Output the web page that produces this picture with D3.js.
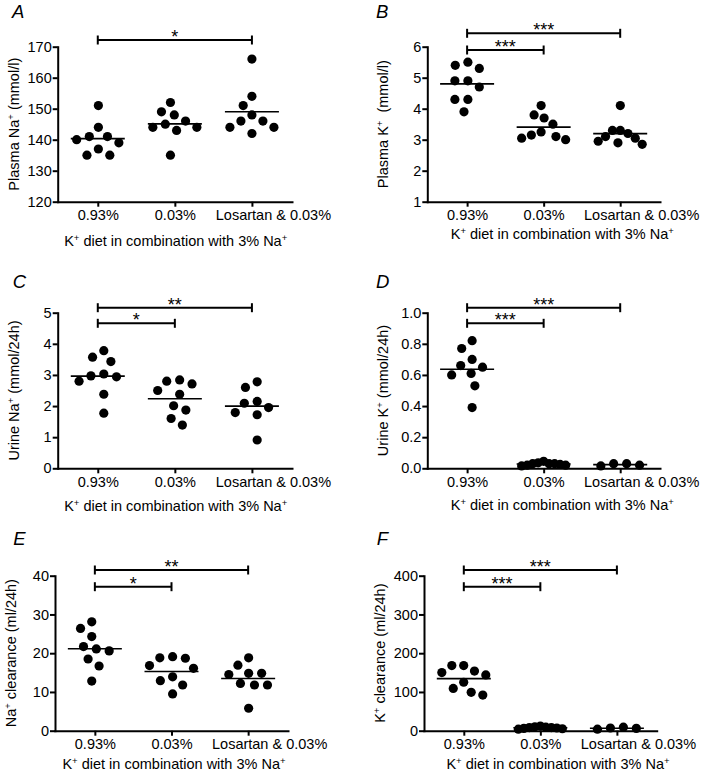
<!DOCTYPE html>
<html><head><meta charset="utf-8">
<script src="https://cdn.jsdelivr.net/npm/d3@7"></script>
<style>
body{margin:0;background:#fff}
svg{display:block}
text{font-family:"Liberation Sans",Arial,Helvetica,sans-serif;fill:#000}
</style></head>
<body><svg width="702" height="778"></svg>
<script>
// ---------- DATA ----------
const categories = ["0.93%", "0.03%", "Losartan & 0.03%"];
const xTitle = "K^+ diet in combination with 3% Na^+";

// A: Plasma Na+ (mmol/l)
const plasmaNa = [
  [144, 151, 137, 141, 140, 141, 139, 135, 135],
  [152, 148, 149, 146, 145, 144, 143, 144, 135],
  [166, 154, 151, 148, 146, 146, 144, 144, 142]
];
// B: Plasma K+ (mmol/l)
const plasmaK = [
  [5.5, 5.3, 5.4, 4.9, 4.7, 4.9, 4.3, 4.3, 3.9],
  [4.1, 3.7, 3.8, 3.5, 3.15, 3.25, 3.05, 3.1, 3.0],
  [4.1, 3.3, 3.3, 3.2, 3.1, 2.95, 2.85, 2.9, 3.05]
];
// C: Urine Na+ (mmol/24h)
const urineNa = [
  [3.57, 3.78, 3.43, 3.03, 2.94, 2.97, 2.8, 2.38, 1.77],
  [2.84, 2.71, 2.8, 2.38, 2.5, 2.01, 1.87, 1.6, 1.39],
  [2.78, 2.6, 2.15, 2.09, 1.95, 1.79, 1.72, 0.91]
];
// D: Urine K+ (mmol/24h)
const urineK = [
  [0.82, 0.77, 0.70, 0.65, 0.66, 0.60, 0.61, 0.53, 0.39],
  [0.03, 0.02, 0.035, 0.045, 0.03, 0.02, 0.015, 0.025, 0.03],
  [0.03, 0.015, 0.02, 0.03]
];
// E: Na+ clearance (ml/24h)
const naClearance = [
  [28.1, 26.4, 24.3, 21.7, 20.6, 21.1, 18.5, 16.7, 12.8],
  [19.1, 18.7, 18.8, 16.1, 16.8, 12.9, 13.9, 11.8, 9.5],
  [18.8, 16.9, 14.5, 14.8, 14.8, 11.8, 11.8, 12.2, 5.8]
];
// F: K+ clearance (ml/24h)
const kClearance = [
  [168, 168, 150, 144, 154, 125, 109, 99, 92],
  [8, 5, 10, 12, 7, 9, 4, 6, 8],
  [7, 4, 6, 9]
];

const ticksA = [120, 130, 140, 150, 160, 170];
const ticksB = [1, 2, 3, 4, 5, 6];
const ticksC = [0, 1, 2, 3, 4, 5];
const ticksD = [0.0, 0.2, 0.4, 0.6, 0.8, 1.0];
const ticksE = [0, 10, 20, 30, 40];
const ticksF = [0, 100, 200, 300, 400];

const sigA = [{from: 0, to: 2, label: "*"}];
const sigB = [{from: 0, to: 1, label: "***"}, {from: 0, to: 2, label: "***"}];
const sigC = [{from: 0, to: 1, label: "*"}, {from: 0, to: 2, label: "**"}];
const sigD = [{from: 0, to: 1, label: "***"}, {from: 0, to: 2, label: "***"}];
const sigE = [{from: 0, to: 1, label: "*"}, {from: 0, to: 2, label: "**"}];
const sigF = [{from: 0, to: 1, label: "***"}, {from: 0, to: 2, label: "***"}];

// ---------- PANELS (layout) ----------
const panels = [
  {letter: "A", data: plasmaNa, ticks: ticksA, fmt: d3.format("d"), yTitle: "Plasma Na^+ (mmol/l)", sig: sigA,
   x0: 57.7, x1: 292, y0: 46.7, y1: 201.7, lx: 12, ly: 18.3, bOff: [-6.7], xtDy: 44, xtDx: 118},
  {letter: "B", data: plasmaK, ticks: ticksB, fmt: d3.format("d"), yTitle: "Plasma K^+  (mmol/l)", sig: sigB,
   x0: 427.3, x1: 660, y0: 46.7, y1: 201.7, lx: 376, ly: 18.3, bOff: [3.3, -13.4], xtDy: 37.5, xtDx: 135},
  {letter: "C", data: urineNa, ticks: ticksC, fmt: d3.format("d"), yTitle: "Urine Na^+ (mmol/24h)", sig: sigC,
   x0: 57.7, x1: 292, y0: 312.7, y1: 468.3, lx: 12.7, ly: 288.3, bOff: [10.6, -5], xtDy: 43, xtDx: 118},
  {letter: "D", data: urineK, ticks: ticksD, fmt: d3.format(".1f"), yTitle: "Urine K^+ (mmol/24h)", sig: sigD,
   x0: 427.3, x1: 660, y0: 312.7, y1: 468.3, lx: 376, ly: 288.3, bOff: [10.6, -5], xtDy: 42, xtDx: 135},
  {letter: "E", data: naClearance, ticks: ticksE, fmt: d3.format("d"), yTitle: "Na^+ clearance (ml/24h)", sig: sigE,
   x0: 55, x1: 288, y0: 575.7, y1: 730.7, lx: 13.3, ly: 545, bOff: [11, -5.7], xtDy: 38.3, xtDx: 119},
  {letter: "F", data: kClearance, ticks: ticksF, fmt: d3.format("d"), yTitle: "K^+ clearance (ml/24h)", sig: sigF,
   x0: 424, x1: 656.7, y0: 575.7, y1: 730.7, lx: 376.7, ly: 545, bOff: [11, -5.7], xtDy: 38.3, xtDx: 134}
];

const FS = 14.5;
const svg = d3.select("svg");

function addRich(textSel, str) {
  const parts = str.split("^+");
  parts.forEach((p, i) => {
    if (p.length) textSel.append("tspan").text(p).attr("dy", i > 0 ? 5 : null);
    if (i < parts.length - 1) {
      textSel.append("tspan").text("+").attr("font-size", 9.5).attr("dy", -5);
    }
  });
}

function dodge(ys, D, maxHalf) {
  const xs = new Array(ys.length);
  const placed = [];
  const order = d3.range(ys.length).sort((a, b) => ys[a] - ys[b]);
  for (const i of order) {
    const yi = ys[i];
    const cands = [0];
    for (const j of placed) {
      const dy = Math.abs(ys[j] - yi);
      if (dy < D) {
        const dx = Math.sqrt(D * D - dy * dy);
        cands.push(xs[j] + dx, xs[j] - dx);
      }
    }
    cands.sort((a, b) => Math.abs(a) - Math.abs(b) || a - b);
    for (const c of cands) {
      if (placed.every(j => (xs[j] - c) ** 2 + (ys[j] - yi) ** 2 >= D * D - 0.01)) { xs[i] = c; break; }
    }
    placed.push(i);
  }
  const mid = (d3.max(xs) + d3.min(xs)) / 2;
  let out = xs.map(v => v - mid);
  const ext = d3.max(out, v => Math.abs(v));
  if (ext > maxHalf) out = out.map(v => v * maxHalf / ext);
  return out;
}

panels.forEach(p => {
  const g = svg.append("g");
  const x = d3.scalePoint().domain(categories).range([p.x0, p.x1]).padding(0.52);
  const y = d3.scaleLinear().domain([p.ticks[0], p.ticks[p.ticks.length - 1]]).range([p.y1, p.y0]);

  const yAx = g.append("g").attr("transform", `translate(${p.x0},0)`)
    .call(d3.axisLeft(y).tickValues(p.ticks).tickFormat(p.fmt).tickSize(5).tickSizeOuter(0).tickPadding(1));
  const xAx = g.append("g").attr("transform", `translate(0,${p.y1})`)
    .call(d3.axisBottom(x).tickSize(5).tickSizeOuter(0).tickPadding(3));
  [yAx, xAx].forEach(a => {
    a.selectAll("path.domain").attr("stroke", "#000").attr("stroke-width", 2).attr("stroke-linecap", "square");
    a.selectAll(".tick line").attr("stroke", "#000").attr("stroke-width", 2);
    a.selectAll(".tick text").attr("font-size", FS).attr("font-family", "Liberation Sans, Arial, sans-serif").attr("fill", "#000");
  });
  // the long last label sits to the right of its tick, as in the original figure
  xAx.selectAll(".tick text").filter(d => d === categories[2]).attr("x", 21);

  // dots
  p.data.forEach((vals, ci) => {
    const cx = x(categories[ci]);
    const ys = vals.map(v => y(v));
    const offs = dodge(ys, 13, 22);
    g.append("g").selectAll("circle").data(vals).join("circle")
      .attr("cx", (d, i) => cx + offs[i]).attr("cy", d => y(d)).attr("r", 4.6).attr("fill", "#000");
    const m = d3.mean(vals);
    g.append("line").attr("x1", cx - 27).attr("x2", cx + 27).attr("y1", y(m)).attr("y2", y(m))
      .attr("stroke", "#000").attr("stroke-width", 1.6);
  });

  // significance brackets
  p.sig.forEach((s, k) => {
    const by = p.y0 + p.bOff[k];
    const xa = x(categories[s.from]), xb = x(categories[s.to]);
    g.append("line").attr("x1", xa).attr("x2", xb).attr("y1", by).attr("y2", by).attr("stroke", "#000").attr("stroke-width", 2);
    [xa, xb].forEach(xx => g.append("line").attr("x1", xx).attr("x2", xx).attr("y1", by - 4.5).attr("y2", by + 4.5)
      .attr("stroke", "#000").attr("stroke-width", 2));
    g.append("text").attr("x", (xa + xb) / 2).attr("y", by + 3).attr("text-anchor", "middle")
      .attr("font-size", 18).text(s.label);
  });

  // panel letter
  g.append("text").attr("x", p.lx).attr("y", p.ly).attr("font-size", 18.5).attr("font-style", "italic").text(p.letter);

  // y title
  const yt = g.append("text").attr("transform", "rotate(-90)")
    .attr("x", -(p.y0 + p.y1) / 2).attr("y", p.x0 - 39).attr("text-anchor", "middle")
    .attr("font-size", FS).style("white-space", "pre");
  addRich(yt, p.yTitle);

  // x title
  const xt = g.append("text").attr("x", p.x0 + p.xtDx).attr("y", p.y1 + p.xtDy)
    .attr("text-anchor", "middle").attr("font-size", FS).style("white-space", "pre");
  addRich(xt, xTitle);
});
</script>
</body></html>
